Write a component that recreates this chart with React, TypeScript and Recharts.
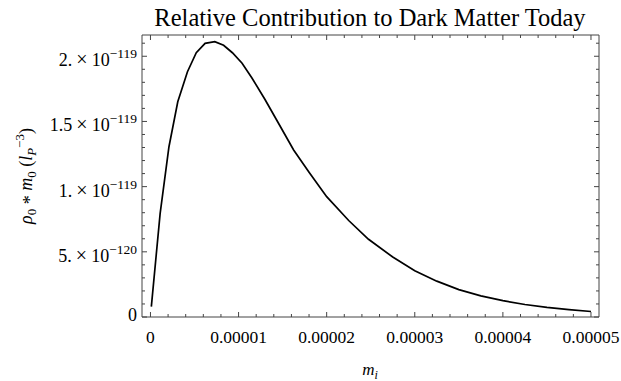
import { LineChart, Line, XAxis, YAxis } from 'recharts'

// sampled curve: mass m_i and the resulting rho_0 * m_0
const masses = [
  1e-7, 1.1e-6, 2.1e-6, 3.1e-6, 4.2e-6, 5.2e-6, 6.2e-6, 7.3e-6, 8.3e-6, 9.3e-6,
  1.04e-5, 1.15e-5, 1.3e-5, 1.45e-5, 1.625e-5, 1.8e-5, 2.0e-5, 2.25e-5, 2.475e-5,
  2.75e-5, 3.0e-5, 3.25e-5, 3.5e-5, 3.75e-5, 4.0e-5, 4.25e-5, 4.5e-5, 4.75e-5, 5.0e-5,
]
const densities = [
  7.9e-121, 7.95e-120, 1.306e-119, 1.651e-119, 1.881e-119, 2.027e-119, 2.099e-119,
  2.112e-119, 2.084e-119, 2.027e-119, 1.946e-119, 1.835e-119, 1.668e-119, 1.49e-119,
  1.281e-119, 1.11e-119, 9.23e-120, 7.4e-120, 5.96e-120, 4.6e-120, 3.55e-120,
  2.75e-120, 2.1e-120, 1.62e-120, 1.25e-120, 9.6e-121, 7.4e-121, 5.7e-121, 4.2e-121,
]

const xMajor = [0, 0.00001, 0.00002, 0.00003, 0.00004, 0.00005]
const xLabels = ['0', '0.00001', '0.00002', '0.00003', '0.00004', '0.00005']
const yMajor = [0, 5e-120, 1e-119, 1.5e-119, 2e-119]
const yMant = ['0', '5.', '1.', '1.5', '2.']
const yExp = ['', '\u2212120', '\u2212119', '\u2212119', '\u2212119']

// minor ticks: 4 between each pair of majors
const xTicks = Array.from({ length: 26 }, (_, i) => i * 2e-6)
const yTicks = Array.from({ length: 22 }, (_, i) => i * 1e-120)

const data = masses.map((m, i) => ({ m, rho: densities[i] }))

const X_DOMAIN = [-9.6e-7, 5.091e-5]
const Y_DOMAIN = [0, 2.163e-119]

const FONT = '"Liberation Serif", "Times New Roman", serif'
const FRAME = '#444'

const majorIndex = (v: number, list: number[]) => {
  const step = list[1] - list[0]
  return list.findIndex((t) => Math.abs(t - v) < step * 1e-3)
}

function BottomTick({ x, y, payload }: any) {
  const k = majorIndex(payload.value, xMajor)
  return (
    <g>
      <line x1={x} x2={x} y1={y} y2={y - (k >= 0 ? 5 : 3)} stroke={FRAME} />
      {k >= 0 && (
        <text x={x} y={y + 26} textAnchor="middle" fontSize={17.5} fontFamily={FONT} fill="#000">
          {xLabels[k]}
        </text>
      )}
    </g>
  )
}

function TopTick({ x, y, payload }: any) {
  const k = majorIndex(payload.value, xMajor)
  return <line x1={x} x2={x} y1={y} y2={y + (k >= 0 ? 5 : 3)} stroke={FRAME} />
}

function LeftTick({ x, y, payload }: any) {
  const k = majorIndex(payload.value, yMajor)
  return (
    <g>
      <line x1={x} x2={x + (k >= 0 ? 5 : 3)} y1={y} y2={y} stroke={FRAME} />
      {k >= 0 && (
        <text
          x={x - 5}
          y={y + (yExp[k] ? 10 : 4)}
          textAnchor="end"
          fontSize={18}
          fontFamily={FONT}
          fill="#000"
        >
          {yExp[k] ? (
            <>
              {yMant[k]}
              <tspan dx={4} fontSize={20}>{'\u00d7'}</tspan>
              <tspan dx={4}>10</tspan>
              <tspan dy={-8} fontSize={13.5}>
                {yExp[k]}
              </tspan>
            </>
          ) : (
            yMant[k]
          )}
        </text>
      )}
    </g>
  )
}

function RightTick({ x, y, payload }: any) {
  const k = majorIndex(payload.value, yMajor)
  return <line x1={x} x2={x - (k >= 0 ? 5 : 3)} y1={y} y2={y} stroke={FRAME} />
}

export default function App() {
  return (
    <div style={{ position: 'absolute', left: 0, top: 0, width: 621, height: 381, background: '#fff' }}>
      <LineChart width={621} height={381} data={data} margin={{ top: 34, right: 21, bottom: 63, left: 141 }}>
        <XAxis
          xAxisId="b"
          dataKey="m"
          type="number"
          domain={X_DOMAIN}
          allowDataOverflow
          ticks={xTicks}
          interval={0}
          height={1}
          tickSize={0}
          tickMargin={0}
          tick={<BottomTick />}
          stroke={FRAME}
        />
        <XAxis
          xAxisId="t"
          orientation="top"
          dataKey="m"
          type="number"
          domain={X_DOMAIN}
          allowDataOverflow
          ticks={xTicks}
          interval={0}
          height={1}
          tickSize={0}
          tickMargin={0}
          tick={<TopTick />}
          stroke={FRAME}
        />
        <YAxis
          yAxisId="l"
          type="number"
          domain={Y_DOMAIN}
          allowDataOverflow
          ticks={yTicks}
          interval={0}
          width={1}
          tickSize={0}
          tickMargin={0}
          tick={<LeftTick />}
          stroke={FRAME}
        />
        <YAxis
          yAxisId="r"
          orientation="right"
          type="number"
          domain={Y_DOMAIN}
          allowDataOverflow
          ticks={yTicks}
          interval={0}
          width={1}
          tickSize={0}
          tickMargin={0}
          tick={<RightTick />}
          stroke={FRAME}
        />
        <Line
          xAxisId="b"
          yAxisId="l"
          type="linear"
          dataKey="rho"
          stroke="#000"
          strokeWidth={1.7}
          dot={false}
          isAnimationActive={false}
        />
        <text x={370} y={26} textAnchor="middle" fontSize={24.5} fontFamily={FONT} fill="#000">
          Relative Contribution to Dark Matter Today
        </text>
        <text x={370} y={375} textAnchor="middle" fontSize={17} fontFamily={FONT} fill="#000">
          <tspan fontStyle="italic">m</tspan>
          <tspan dy={4} fontSize={12} fontStyle="italic">i</tspan>
        </text>
        <text
          transform="translate(32,176) rotate(-90)"
          textAnchor="middle"
          fontSize={18}
          fontFamily={FONT}
          fill="#000"
        >
          <tspan fontStyle="italic">{'\u03c1'}</tspan>
          <tspan dy={4} fontSize={13}>0</tspan>
          <tspan dy={0}>{' '}</tspan>
          <tspan dy={0}>*</tspan>
          <tspan dy={-4}>{' '}</tspan>
          <tspan fontStyle="italic">m</tspan>
          <tspan dy={4} fontSize={13}>0</tspan>
          <tspan dy={-4}>{' ('}</tspan>
          <tspan fontStyle="italic">l</tspan>
          <tspan dy={4} fontSize={13} fontStyle="italic">P</tspan>
          <tspan dy={-12} fontSize={13}>{'\u22123'}</tspan>
          <tspan dy={8}>)</tspan>
        </text>
      </LineChart>
    </div>
  )
}
